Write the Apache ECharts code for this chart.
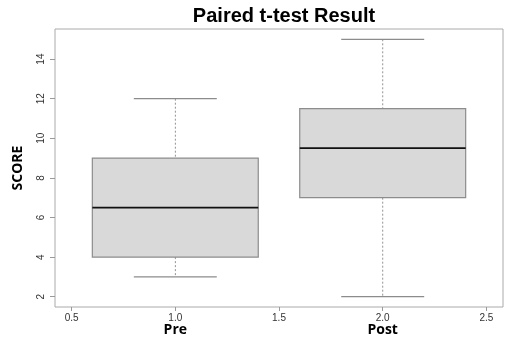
<!DOCTYPE html>
<html>
<head>
<meta charset="utf-8">
<script src="https://cdn.jsdelivr.net/npm/echarts@6/dist/echarts.min.js"></script>
<style>html,body{margin:0;padding:0;background:#fff}#c{width:507px;height:339px}</style>
</head>
<body>
<div id="c"></div>
<script>
var categories = ["Pre", "Post"];
var positions = [1, 2];
var whiskerLow = [3, 2];
var q1 = [4, 7];
var median = [6.5, 9.5];
var q3 = [9, 11.5];
var whiskerHigh = [12, 15];
var xTicks = [0.5, 1.0, 1.5, 2.0, 2.5];
var yTicks = [2, 4, 6, 8, 10, 12, 14];

var data = positions.map(function (p, i) {
  return [p, whiskerLow[i], q1[i], median[i], q3[i], whiskerHigh[i]];
});

var chart = echarts.init(document.getElementById('c'), null, {renderer: 'canvas'});
var tickFontFamily = 'Liberation Sans, Arial, sans-serif';

function renderItem(params, api) {
  var x = api.value(0), lo = api.value(1), a = api.value(2), m = api.value(3), b = api.value(4), hi = api.value(5);
  var boxHalf = 0.4, capHalf = 0.2;
  var pc = api.coord([x, m]);
  var pLo = api.coord([x, lo]), pA = api.coord([x, a]), pB = api.coord([x, b]), pHi = api.coord([x, hi]);
  var bl = api.coord([x - boxHalf, a])[0], br = api.coord([x + boxHalf, a])[0];
  var cl = api.coord([x - capHalf, a])[0], cr = api.coord([x + capHalf, a])[0];
  var grey = '#8c8c8c';
  return {
    type: 'group',
    children: [
      {type: 'line', shape: {x1: pc[0], y1: pHi[1], x2: pc[0], y2: pB[1]}, style: {stroke: '#777', lineWidth: 0.8, lineDash: [2, 2]}},
      {type: 'line', shape: {x1: pc[0], y1: pA[1], x2: pc[0], y2: pLo[1]}, style: {stroke: '#777', lineWidth: 0.8, lineDash: [2, 2]}},
      {type: 'line', shape: {x1: cl, y1: pHi[1], x2: cr, y2: pHi[1]}, style: {stroke: grey, lineWidth: 1.2}},
      {type: 'line', shape: {x1: cl, y1: pLo[1], x2: cr, y2: pLo[1]}, style: {stroke: grey, lineWidth: 1.2}},
      {type: 'rect', shape: {x: bl, y: pB[1], width: br - bl, height: pA[1] - pB[1]}, style: {fill: '#d9d9d9', stroke: grey, lineWidth: 1.2}},
      {type: 'line', shape: {x1: bl, y1: pc[1], x2: br, y2: pc[1]}, style: {stroke: '#111', lineWidth: 1.8}}
    ]
  };
}

chart.setOption({
  animation: false,
  backgroundColor: '#fff',
  title: {
    text: 'Paired t-test Result',
    left: 279, top: 1, textAlign: 'center',
    textStyle: {fontFamily: 'Liberation Sans, Arial, sans-serif', fontWeight: 'bold', fontSize: 20, color: '#000'}
  },
  grid: {left: 55, right: 4, top: 29, bottom: 32, show: true, borderColor: '#aaa', borderWidth: 1, backgroundColor: 'transparent'},
  xAxis: [{
    type: 'value', min: 0.42, max: 2.58,
    axisLine: {show: false}, splitLine: {show: false},
    axisTick: {show: true, length: 4, customValues: xTicks, lineStyle: {color: '#999'}},
    axisLabel: {customValues: xTicks, margin: 6, formatter: function (v) { return v.toFixed(1); }, fontFamily: tickFontFamily, fontSize: 10, color: '#333'}
  }, {
    type: 'value', min: 0.42, max: 2.58, position: 'bottom', offset: 12,
    axisLine: {show: false}, splitLine: {show: false}, axisTick: {show: false},
    axisLabel: {customValues: positions, formatter: function (v) { return categories[positions.indexOf(Math.round(v))]; }, fontFamily: 'Open Sans, Noto Sans, sans-serif', fontWeight: 'bold', fontSize: 14, color: '#000', margin: 4}
  }],
  yAxis: {
    type: 'value', min: 1.48, max: 15.52,
    name: 'SCORE', nameLocation: 'middle', nameRotate: 90, nameGap: 30,
    nameTextStyle: {fontFamily: 'Open Sans, Noto Sans, sans-serif', fontWeight: 'bold', fontSize: 14, color: '#000'},
    axisLine: {show: false}, splitLine: {show: false},
    axisTick: {show: true, length: 5, customValues: yTicks, lineStyle: {color: '#999'}},
    axisLabel: {customValues: yTicks, rotate: 90, margin: 9, fontFamily: tickFontFamily, fontSize: 10, color: '#333'}
  },
  series: [{
    type: 'custom',
    xAxisIndex: 0,
    renderItem: renderItem,
    encode: {x: 0, y: [1, 2, 3, 4, 5]},
    data: data
  }]
});
</script>
</body>
</html>
